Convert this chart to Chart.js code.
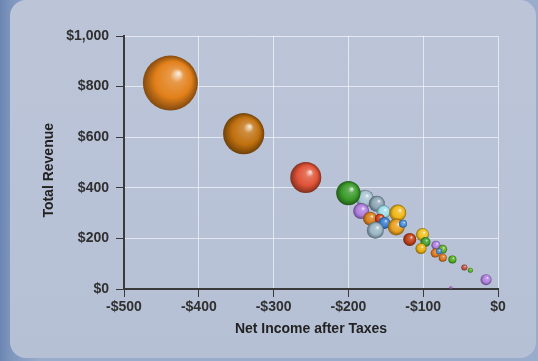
<!DOCTYPE html>
<html>
<head>
<meta charset="utf-8">
<script src="https://cdn.jsdelivr.net/npm/chart.js@4.4.1/dist/chart.umd.min.js"></script>
<style>
html, body { margin: 0; padding: 0; width: 538px; height: 361px; overflow: hidden; }
body { background: linear-gradient(90deg, #6b86b3 0px, #7d95bd 10px, #9aaccb 40px); position: relative; }
#panel { position: absolute; left: 10px; top: 0px; width: 526px; height: 358px; border-radius: 16px;
         background: linear-gradient(180deg, #bcc5d8 0%, #b6c0d5 100%); }
#wrap { position: absolute; left: 0; top: 0; width: 538px; height: 361px; }
</style>
</head>
<body>
<div id="panel"></div>
<div id="wrap"><canvas id="bubbleChart" width="538" height="361"></canvas></div>
<script>
// Values
const netIncome    = [-438, -340, -257, -178, -162, -200, -183, -153, -134, -171, -158, -152, -164, -136, -127, -118, -101, -97, -103, -83, -74, -84, -79, -74, -61, -45, -37, -16, -63];
const totalRevenue = [814, 614, 441, 357, 337, 379, 308, 304, 300, 278, 278, 261, 232, 245, 258, 196, 215, 186, 160, 173, 157, 142, 149, 124, 117, 85, 74, 37, 6];
const bubbleSize   = [27.5, 20.6, 15.5, 9, 8, 12.2, 8, 7, 8.5, 7, 5, 6, 8.5, 8.5, 4, 6.5, 6.5, 5, 5.5, 4.5, 4.5, 4.5, 3, 4, 4, 3, 2.5, 5.5, 1.5];
const xTicks = [-500, -400, -300, -200, -100, 0];
const yTicks = [0, 200, 400, 600, 800, 1000];

// One colour per bubble (green one is drawn over the silver ones)
const bubbleColors = ['#e2801a', '#c0700e', '#df5236', '#a9c4d3', '#8ea6b6', '#3a9a2a', '#b07ee0', '#9fdeea',
    '#f0b818', '#d9801c', '#cf4220', '#3a7fd0', '#9ab6c6', '#e8a020', '#4a90e0', '#c04018', '#f0c020',
    '#40a030', '#e8b010', '#b080e0', '#60b030', '#e07820', '#5090d0', '#e07820', '#50b020', '#c05040',
    '#50b020', '#b080e0', '#a060c0'];

function mix(hex, other, t) {
    const a = parseInt(hex.slice(1), 16), b = parseInt(other.slice(1), 16);
    const ch = s => [(s >> 16) & 255, (s >> 8) & 255, s & 255];
    const ca = ch(a), cb = ch(b);
    return 'rgb(' + ca.map((v, k) => Math.round(v + (cb[k] - v) * t)).join(',') + ')';
}

// 3D-looking sphere fill
function sphere(context) {
    const i = context.dataIndex;
    const base = bubbleColors[i];
    const chart = context.chart;
    const xs = chart.scales.x, ys = chart.scales.y;
    if (context.type !== 'data' || !xs || !ys) return base;
    const cx = xs.getPixelForValue(netIncome[i]);
    const cy = ys.getPixelForValue(totalRevenue[i]);
    const r = bubbleSize[i];
    if (!isFinite(cx) || !isFinite(cy)) return base;
    const g = chart.ctx.createRadialGradient(cx + r * 0.3, cy - r * 0.35, r * 0.04, cx, cy, r);
    g.addColorStop(0, mix(base, '#ffffff', 0.8));
    g.addColorStop(0.22, mix(base, '#ffffff', 0.2));
    g.addColorStop(0.65, base);
    g.addColorStop(1, mix(base, '#000000', 0.42));
    return g;
}

function money(v) {
    const s = '$' + Math.abs(v).toLocaleString('en-US');
    return v < 0 ? '-' + s : s;
}

const tickFont = { family: '"Liberation Sans", Arial, sans-serif', weight: 'bold', size: 14 };
const titleFont = { family: '"Liberation Sans", Arial, sans-serif', weight: 'bold', size: 14 };

new Chart(document.getElementById('bubbleChart'), {
    type: 'bubble',
    data: {
        datasets: [{
            data: netIncome.map((x, i) => ({ x: x, y: totalRevenue[i], r: bubbleSize[i] })),
            backgroundColor: sphere,
            borderWidth: 0,
            clip: false
        }]
    },
    options: {
        responsive: false,
        animation: false,
        events: [],
        layout: { padding: { top: 36, right: 40, bottom: 18, left: 40 } },
        plugins: { legend: { display: false }, tooltip: { enabled: false } },
        scales: {
            x: {
                type: 'linear', min: -500, max: 0,
                afterBuildTicks: s => { s.ticks = xTicks.map(v => ({ value: v })); },
                afterFit: s => { s.height = 54; },
                grid: { color: 'rgba(255,255,255,0.6)', tickColor: '#3a3a3a', tickLength: 8, lineWidth: 1 },
                border: { color: '#3a3a3a', width: 2 },
                ticks: { color: '#303030', font: tickFont, padding: 2, maxRotation: 0, callback: money },
                title: { display: true, text: 'Net Income after Taxes', color: '#222', font: titleFont, padding: { top: 0, bottom: 5 } }
            },
            y: {
                type: 'linear', min: 0, max: 1000,
                afterBuildTicks: s => { s.ticks = yTicks.map(v => ({ value: v })); },
                afterFit: s => { s.width = 84; },
                grid: { color: 'rgba(255,255,255,0.6)', tickColor: '#3a3a3a', tickLength: 8, lineWidth: 1 },
                border: { color: '#3a3a3a', width: 2 },
                ticks: { color: '#303030', font: tickFont, padding: 7, callback: money },
                // trailing spaces push the rotated title a little lower, as in the picture
                title: { display: true, text: 'Total Revenue    ', color: '#222', font: titleFont, padding: { top: 1, bottom: 0 } }
            }
        }
    }
});
</script>
</body>
</html>
